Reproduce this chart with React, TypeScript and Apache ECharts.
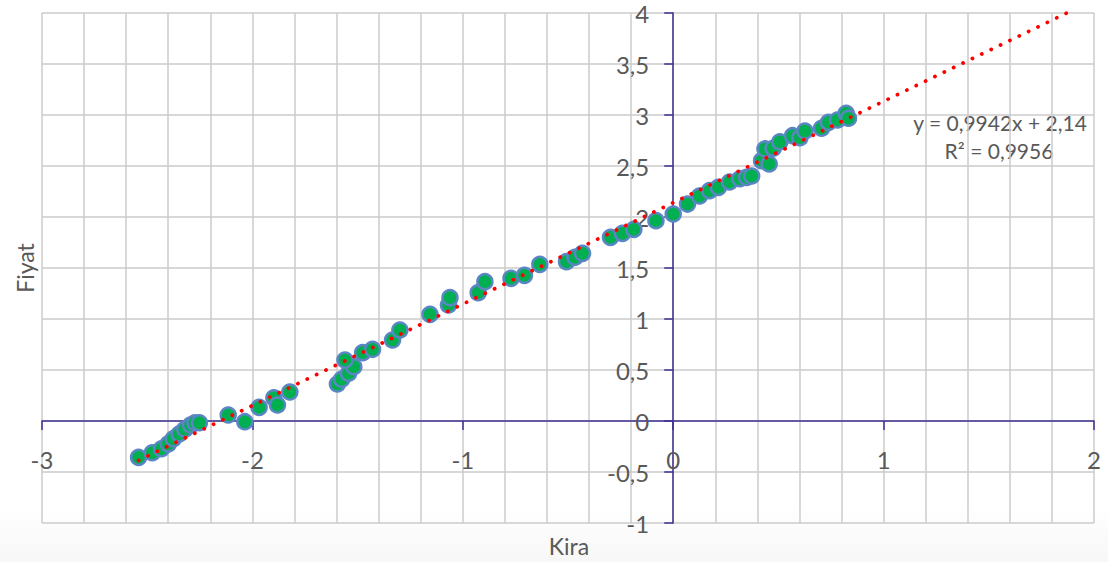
import React, { useEffect, useRef } from "react";
import * as echarts from "echarts";

const kira: number[] = [
  -2.541, -2.476, -2.432, -2.4, -2.376, -2.348, -2.321, -2.294, -2.273, -2.252,
  -2.115, -2.036, -1.968, -1.898, -1.881, -1.822, -1.596, -1.576, -1.543, -1.518,
  -1.56, -1.476, -1.429, -1.334, -1.299, -1.156, -1.068, -1.061, -0.927, -0.895,
  -0.771, -0.707, -0.634, -0.507, -0.467, -0.431, -0.298, -0.241, -0.187, -0.082,
  0.0, 0.068, 0.125, 0.173, 0.215, 0.268, 0.317, 0.349, 0.373, 0.42,
  0.456, 0.436, 0.475, 0.507, 0.567, 0.602, 0.626, 0.705, 0.738, 0.781,
  0.822, 0.833,
];

const fiyat: number[] = [
  -0.356, -0.311, -0.272, -0.225, -0.174, -0.127, -0.081, -0.039, -0.017, -0.017,
  0.059, -0.007, 0.134, 0.228, 0.157, 0.284, 0.363, 0.409, 0.468, 0.532,
  0.598, 0.67, 0.703, 0.794, 0.892, 1.046, 1.137, 1.209, 1.258, 1.366,
  1.399, 1.428, 1.536, 1.562, 1.605, 1.644, 1.801, 1.84, 1.879, 1.964,
  2.029, 2.127, 2.206, 2.258, 2.291, 2.343, 2.375, 2.389, 2.402, 2.552,
  2.52, 2.667, 2.674, 2.738, 2.797, 2.778, 2.843, 2.87, 2.928, 2.951,
  3.017, 2.968,
];

const slope = 0.9942;
const intercept = 2.14;
const equationLines: string[] = ["y = 0,9942x + 2,14", "R² = 0,9956"];
const xTitle = "Kira";
const yTitle = "Fiyat";
const xRange: number[] = [-3, 2];
const yRange: number[] = [-1, 4];

const FONT = 'Lato, "Noto Sans", sans-serif';
const TXT = "#595959";
const AXIS = "#3d3192";
const GRID = "#cbcbcb";

const G_LEFT = 42;
const G_RIGHT = 14;
const G_TOP = 13;
const G_BOTTOM = 39;
const W = 1108;
const H = 562;

const fmt = (v: number) => String(v).replace(".", ",");

export default function App() {
  const ref = useRef<HTMLDivElement>(null);
  useEffect(() => {
    if (!ref.current) return;
    const chart = echarts.init(ref.current, undefined, { renderer: "svg" });
    const points = kira.map((x, i) => [x, fiyat[i]]);
    const tStart = Math.min(...kira);
    const tEnd = (yRange[1] - intercept) / slope;
    const trend = [
      [tStart, slope * tStart + intercept],
      [tEnd, slope * tEnd + intercept],
    ];
    // place the axes at the zero crossing through offsets derived from the ranges
    const gw = W - G_LEFT - G_RIGHT;
    const gh = H - G_TOP - G_BOTTOM;
    const xOffset = -((0 - yRange[0]) / (yRange[1] - yRange[0])) * gh;
    const yOffset = -((0 - xRange[0]) / (xRange[1] - xRange[0])) * gw;
    chart.setOption({
      animation: false,
      backgroundColor: new echarts.graphic.LinearGradient(0, 0, 0, 1, [
        { offset: 0, color: "#ffffff" },
        { offset: 0.9, color: "#ffffff" },
        { offset: 1, color: "#f7f7f7" },
      ]),
      grid: {
        left: G_LEFT,
        right: G_RIGHT,
        top: G_TOP,
        bottom: G_BOTTOM,
        outerBoundsMode: "none",
        containLabel: false,
      },
      xAxis: {
        type: "value",
        position: "bottom",
        offset: xOffset,
        min: xRange[0],
        max: xRange[1],
        interval: 1,
        axisLine: { show: true, onZero: false, lineStyle: { color: AXIS, width: 1.5 } },
        axisTick: { show: true, length: 9, lineStyle: { color: AXIS, width: 1.5 } },
        axisLabel: {
          margin: 26,
          fontFamily: FONT,
          fontSize: 24,
          color: TXT,
          formatter: fmt,
        },
        splitLine: { show: true, lineStyle: { color: GRID, width: 1.5 } },
        minorTick: { show: false, splitNumber: 5 },
        minorSplitLine: { show: true, lineStyle: { color: GRID, width: 1.5 } },
      },
      yAxis: {
        type: "value",
        position: "left",
        offset: yOffset,
        min: yRange[0],
        max: yRange[1],
        interval: 0.5,
        axisLine: { show: true, onZero: false, lineStyle: { color: AXIS, width: 1.5 } },
        axisTick: { show: true, length: 9, lineStyle: { color: AXIS, width: 1.5 } },
        axisLabel: {
          margin: 24,
          fontFamily: FONT,
          fontSize: 24,
          color: TXT,
          formatter: fmt,
        },
        splitLine: { show: true, lineStyle: { color: GRID, width: 1.5 } },
      },
      series: [
        {
          type: "scatter",
          data: points,
          symbol: "circle",
          symbolSize: 15,
          itemStyle: {
            color: "#00b050",
            borderColor: "#5b86c4",
            borderWidth: 2.5,
            opacity: 1,
          },
          z: 2,
        },
        {
          type: "line",
          data: trend,
          showSymbol: false,
          symbol: "none",
          lineStyle: {
            color: "#ff0000",
            width: 3.8,
            type: [0.1, 10.3],
            cap: "round",
          },
          z: 3,
        },
      ],
      graphic: [
        {
          type: "text",
          x: 1000,
          y: 122,
          style: {
            text: equationLines[0],
            fontFamily: FONT,
            fontSize: 21,
            fill: TXT,
            textAlign: "center",
            textVerticalAlign: "middle",
          },
        },
        {
          type: "text",
          x: 999,
          y: 150,
          style: {
            text: equationLines[1],
            fontFamily: FONT,
            fontSize: 21,
            fill: TXT,
            textAlign: "center",
            textVerticalAlign: "middle",
          },
        },
        {
          type: "text",
          x: 569,
          y: 546,
          style: {
            text: xTitle,
            fontFamily: FONT,
            fontSize: 23,
            fill: TXT,
            textAlign: "center",
            textVerticalAlign: "middle",
          },
        },
        {
          type: "text",
          x: 25,
          y: 268,
          rotation: Math.PI / 2,
          style: {
            text: yTitle,
            fontFamily: FONT,
            fontSize: 23,
            fill: TXT,
            textAlign: "center",
            textVerticalAlign: "middle",
          },
        },
      ],
    });
    return () => chart.dispose();
  }, []);
  return (
    <div
      ref={ref}
      style={{ position: "fixed", left: 0, top: 0, width: W, height: H }}
    />
  );
}
